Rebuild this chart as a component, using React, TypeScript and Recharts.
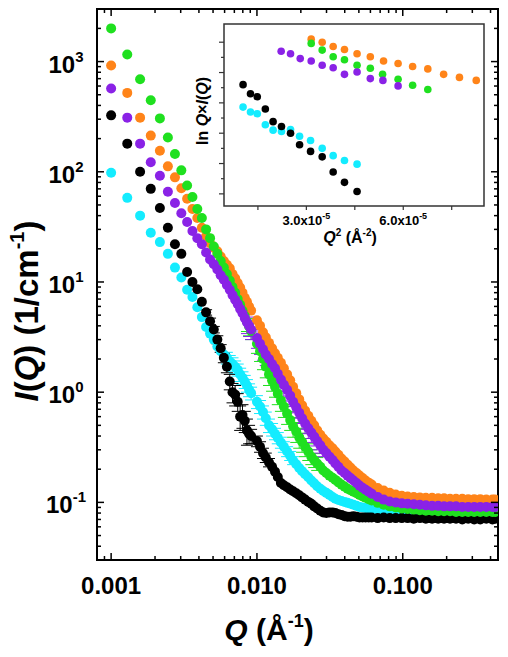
import React from "react";
import { ErrorBar, Label, ReferenceArea, Scatter, ScatterChart, XAxis, YAxis } from "recharts";

// main plot: Q (1/A) against I(Q) (1/cm), both log
const qValues = [
  0.001, 0.00129, 0.00158, 0.00187, 0.00216, 0.00245, 0.00274, 0.00303, 0.00332, 0.00361,
  0.0039, 0.00419, 0.00448, 0.00477, 0.00506, 0.00535, 0.00564, 0.00593, 0.00622, 0.00651,
  0.0068, 0.00709, 0.00738, 0.00767, 0.00796, 0.00825, 0.00854, 0.00883, 0.00912, 0.01,
  0.011, 0.0121, 0.0133, 0.0146, 0.0161, 0.0177, 0.0195, 0.0214, 0.0236, 0.0259,
  0.0285, 0.0314, 0.0345, 0.038, 0.0418, 0.0459, 0.0505, 0.0556, 0.0612, 0.0673,
  0.074, 0.0814, 0.0895, 0.0985, 0.108, 0.119, 0.131, 0.144, 0.159, 0.175,
  0.192, 0.211, 0.232, 0.256, 0.281, 0.309, 0.34, 0.374, 0.412, 0.43
];
// extra points where the curves fall steeply
const qMid = [
  0.0105, 0.0115, 0.0127, 0.0139, 0.0153, 0.0169, 0.0186, 0.0204, 0.0225, 0.0247,
  0.0272, 0.0299, 0.033, 0.0362, 0.0399, 0.0438, 0.0482, 0.053, 0.0584
];

const orangeI = [
  920, 520, 310, 213, 155, 112, 89, 71, 57, 46,
  38, 31, 26, 22.5, 20.5, 19, 17, 15.5, 14.3, 13.3,
  11.8, 10.8, 9.8, 8.9, 8.0, 7.2, 6.6, 6.0, 5.5, 4.5,
  3.5, 2.8, 2.25, 1.85, 1.45, 1.12, 0.86, 0.68, 0.55, 0.45,
  0.38, 0.33, 0.29, 0.25, 0.22, 0.195, 0.175, 0.158, 0.145, 0.135,
  0.128, 0.122, 0.118, 0.115, 0.113, 0.112, 0.111, 0.11, 0.11, 0.109,
  0.109, 0.108, 0.108, 0.108, 0.107, 0.107, 0.107, 0.106, 0.106, 0.106
];
const orangeMid = [
  4.0, 3.15, 2.5, 2.05, 1.65, 1.28, 0.98, 0.76, 0.61, 0.5,
  0.41, 0.355, 0.31, 0.27, 0.235, 0.207, 0.185, 0.166, 0.151
];

const greenI = [
  2000, 1160, 690, 445, 305, 205, 145, 103, 75, 59,
  46, 38, 30, 25, 21, 18, 15.5, 13.5, 11.8, 10.3,
  9.0, 8.0, 7.0, 6.2, 5.5, 4.9, 4.35, 3.95, 3.6, 2.75,
  2.0, 1.45, 1.12, 0.84, 0.64, 0.49, 0.39, 0.32, 0.26, 0.225,
  0.195, 0.175, 0.16, 0.145, 0.133, 0.125, 0.117, 0.11, 0.104, 0.099,
  0.095, 0.092, 0.09, 0.088, 0.087, 0.086, 0.085, 0.084, 0.084, 0.083,
  0.083, 0.083, 0.082, 0.082, 0.082, 0.082, 0.082, 0.082, 0.082, 0.082
];
const greenMid = [
  2.35, 1.7, 1.28, 0.97, 0.74, 0.56, 0.44, 0.355, 0.29, 0.242,
  0.21, 0.185, 0.167, 0.152, 0.139, 0.129, 0.121, 0.113, 0.107
];

const purpleI = [
  570, 310, 180, 122, 92, 66, 52, 42, 35, 29,
  25, 22, 18.5, 16, 14.5, 13, 11.5, 10.5, 9.4, 8.5,
  7.6, 6.9, 6.3, 5.7, 5.2, 4.7, 4.3, 4.0, 3.7, 3.1,
  2.45, 2.0, 1.65, 1.3, 1.05, 0.82, 0.65, 0.52, 0.43, 0.36,
  0.3, 0.26, 0.225, 0.195, 0.175, 0.158, 0.142, 0.13, 0.12, 0.112,
  0.106, 0.102, 0.1, 0.098, 0.097, 0.096, 0.095, 0.094, 0.093, 0.093,
  0.092, 0.092, 0.092, 0.091, 0.091, 0.091, 0.091, 0.091, 0.091, 0.091
];
const purpleMid = [
  2.75, 2.2, 1.8, 1.47, 1.17, 0.93, 0.73, 0.58, 0.47, 0.395,
  0.33, 0.28, 0.242, 0.21, 0.185, 0.166, 0.15, 0.136, 0.125
];

const cyanI = [
  98, 58, 40, 28, 23, 18, 13.5, 11, 8.5, 7.3,
  5.9, 4.8, 3.9, 3.4, 3.0, 2.6, 2.35, 2.2, 2.05, 1.9,
  1.8, 1.7, 1.6, 1.45, 1.35, 1.25, 1.15, 1.05, 0.98, 0.82,
  0.66, 0.5, 0.42, 0.35, 0.29, 0.24, 0.205, 0.18, 0.158, 0.14,
  0.127, 0.117, 0.108, 0.103, 0.099, 0.095, 0.091, 0.089, 0.087, 0.086,
  0.085, 0.084, 0.084, 0.084, 0.083, 0.083, 0.083, 0.083, 0.083, 0.083,
  0.083, 0.083, 0.083, 0.083, 0.083, 0.083, 0.083, 0.083, 0.083, 0.083
];
const cyanMid = [
  0.74, 0.58, 0.46, 0.385, 0.32, 0.265, 0.222, 0.192, 0.169, 0.149,
  0.133, 0.122, 0.112, 0.105, 0.101, 0.097, 0.093, 0.09, 0.088
];

const blackI = [
  325, 180, 100, 70, 47, 31, 22, 18, 12.3, 10,
  8.6, 6.6, 5.3, 4.4, 3.7, 3.0, 2.5, 2.05, 1.7, 1.25,
  1.0, 0.95, 0.82, 0.6, 0.62, 0.55, 0.45, 0.42, 0.4, 0.36,
  0.28, 0.23, 0.19, 0.15, 0.137, 0.126, 0.116, 0.106, 0.097, 0.088,
  0.081, 0.081, 0.08, 0.077, 0.074, 0.075, 0.073, 0.073, 0.073, 0.072,
  0.073, 0.072, 0.072, 0.072, 0.072, 0.071, 0.072, 0.071, 0.071, 0.071,
  0.071, 0.071, 0.071, 0.07, 0.071, 0.07, 0.07, 0.071, 0.07, 0.071
];
const blackMid = [
  0.32, 0.255, 0.21, 0.17, 0.143, 0.131, 0.121, 0.111, 0.101, 0.092,
  0.084, 0.08, 0.081, 0.078, 0.075, 0.074, 0.074, 0.073, 0.073
];

// error bars, same grids (0 = none visible)
const greenErr = [
  0, 0, 0, 0, 0, 0, 0, 0, 0, 0,
  0, 0, 0, 0, 0, 0, 0, 0, 0, 0,
  0, 0, 0, 0, 0, 0, 0.8, 0.7, 0.6, 0.5,
  0.4, 0.3, 0.22, 0.17, 0.13, 0.1, 0.08, 0.06, 0.04, 0.03,
  0, 0, 0, 0, 0, 0, 0, 0, 0, 0,
  0, 0, 0, 0, 0, 0, 0, 0, 0, 0,
  0, 0, 0, 0, 0, 0, 0, 0, 0, 0
];
const greenMidErr = [0.45, 0.35, 0.26, 0.2, 0.15, 0.11, 0.09, 0.07, 0.05, 0.035, 0, 0, 0, 0, 0, 0, 0, 0, 0];

const purpleErr = [
  0, 0, 0, 0, 0, 0, 0, 0, 0, 0,
  0, 0, 0, 0, 0, 0, 0, 0, 0, 0,
  0, 0, 0, 0, 0, 0, 0.9, 0.8, 0.7, 0.6,
  0.5, 0.4, 0.35, 0.28, 0.22, 0.17, 0.13, 0.1, 0.08, 0.06,
  0.04, 0, 0, 0, 0, 0, 0, 0, 0, 0,
  0, 0, 0, 0, 0, 0, 0, 0, 0, 0,
  0, 0, 0, 0, 0, 0, 0, 0, 0, 0
];
const purpleMidErr = [0.55, 0.45, 0.38, 0.31, 0.25, 0.19, 0.15, 0.12, 0.09, 0.07, 0.05, 0, 0, 0, 0, 0, 0, 0, 0];

const cyanErr = [
  0, 0, 0, 0, 0, 0, 0, 0, 0, 0,
  0, 0, 0, 0, 0, 0, 0, 0, 0.25, 0.25,
  0.25, 0.22, 0.2, 0.2, 0.18, 0.17, 0.15, 0.14, 0.13, 0.11,
  0.09, 0.07, 0.05, 0.04, 0.03, 0.02, 0, 0, 0, 0,
  0, 0, 0, 0, 0, 0, 0, 0, 0, 0,
  0, 0, 0, 0, 0, 0, 0, 0, 0, 0,
  0, 0, 0, 0, 0, 0, 0, 0, 0, 0
];
const cyanMidErr = [0.1, 0.08, 0.06, 0.045, 0.035, 0.025, 0, 0, 0, 0, 0, 0, 0, 0, 0, 0, 0, 0, 0];

const blackErr = [
  0, 0, 0, 0, 0, 0, 0, 0, 0, 0,
  0, 0, 0.3, 0.3, 0.25, 0.25, 0.2, 0.2, 0.2, 0.2,
  0.2, 0.2, 0.15, 0.15, 0.15, 0.12, 0.12, 0.08, 0.06, 0.04,
  0.03, 0.02, 0, 0, 0, 0, 0, 0, 0, 0,
  0, 0, 0, 0, 0, 0, 0, 0, 0, 0,
  0, 0, 0, 0, 0, 0, 0, 0, 0, 0,
  0, 0, 0, 0, 0, 0, 0, 0, 0, 0
];
const blackMidErr = [0.035, 0.025, 0, 0, 0, 0, 0, 0, 0, 0, 0, 0, 0, 0, 0, 0, 0, 0, 0];

const xTicks = [
  0.0009, 0.001, 0.002, 0.003, 0.004, 0.005, 0.006, 0.007, 0.008, 0.009,
  0.01, 0.02, 0.03, 0.04, 0.05, 0.06, 0.07, 0.08, 0.09, 0.1, 0.2, 0.3, 0.4
];
const yTicks = [
  0.04, 0.05, 0.06, 0.07, 0.08, 0.09, 0.1, 0.2, 0.3, 0.4, 0.5, 0.6, 0.7, 0.8, 0.9,
  1, 2, 3, 4, 5, 6, 7, 8, 9, 10, 20, 30, 40, 50, 60, 70, 80, 90,
  100, 200, 300, 400, 500, 600, 700, 800, 900, 1000, 2000
];
const xLabels: Record<string, string> = { "0.001": "0.001", "0.01": "0.010", "0.1": "0.100" };

// inset: Q^2 (in 1e-5 A^-2) against ln Q*I(Q)
const insetOrangeQ2 = [3.15, 3.49, 3.83, 4.18, 4.57, 4.98, 5.39, 5.84, 6.29, 6.76, 7.25, 7.74, 8.26];
const insetOrangeV = [-1.95, -2.0, -2.07, -2.12, -2.19, -2.24, -2.31, -2.35, -2.4, -2.44, -2.53, -2.58, -2.63];
const insetGreenQ2 = [3.15, 3.49, 3.83, 4.18, 4.57, 4.98, 5.36, 5.84, 6.29, 6.76];
const insetGreenV = [-2.02, -2.13, -2.24, -2.29, -2.38, -2.43, -2.53, -2.61, -2.71, -2.78];
const insetPurpleQ2 = [2.22, 2.51, 2.81, 3.15, 3.49, 3.83, 4.18, 4.57, 4.98, 5.37, 5.84];
const insetPurpleV = [-2.15, -2.19, -2.27, -2.31, -2.38, -2.42, -2.53, -2.49, -2.6, -2.63, -2.72];
const insetBlackQ2 = [1.04, 1.27, 1.48, 1.73, 1.97, 2.23, 2.51, 2.79, 3.13, 3.49, 3.83, 4.18, 4.57];
const insetBlackV = [-2.7, -2.85, -2.9, -3.1, -3.31, -3.39, -3.5, -3.69, -3.8, -3.89, -4.14, -4.31, -4.46];
const insetCyanQ2 = [1.04, 1.27, 1.48, 1.73, 1.97, 2.23, 2.51, 2.79, 3.13, 3.49, 3.83, 4.18, 4.57];
const insetCyanV = [-3.07, -3.15, -3.18, -3.36, -3.45, -3.47, -3.44, -3.55, -3.62, -3.75, -3.87, -3.95, -4.01];

const insetXTicks = [1.5, 3.0, 4.5, 6.0, 7.5];
const insetYTicks = [-4.5, -4.25, -4.0, -3.75, -3.5, -3.25, -3.0, -2.75, -2.5, -2.25, -2.0];

const ORANGE = "#ff8419";
const GREEN = "#1fe01f";
const PURPLE = "#8a22e6";
const CYAN = "#14ecff";
const BLACK = "#000000";

const PLOT_W = 401;
const PLOT_H = 551;
const FONT = "'Liberation Sans', Arial, Helvetica, sans-serif";

function rows(values: number[], mid: number[], errors?: number[], midErrors?: number[]) {
  const main = qValues.map((q, k) => ({ q, i: values[k], err: errors ? errors[k] : 0 }));
  const extra = qMid.map((q, k) => ({ q, i: mid[k], err: midErrors ? midErrors[k] : 0 }));
  return main.concat(extra);
}

function insetRows(q2: number[], v: number[]) {
  return q2.map((x, k) => ({ q2: x, v: v[k] }));
}

function isDecade(v: number) {
  const l = Math.log10(v);
  return Math.abs(l - Math.round(l)) < 1e-6;
}

function dot(color: string, r: number) {
  return (p: any) => <circle cx={p.cx} cy={p.cy} r={r} fill={color} />;
}

function MainXTick(props: any) {
  const { x, y, payload } = props;
  const major = isDecade(payload.value);
  const len = major ? 7 : 4;
  const key = String(Math.pow(10, Math.round(Math.log10(payload.value))));
  return (
    <g>
      <line x1={x} y1={y} x2={x} y2={y - len} stroke="#000" strokeWidth={1.5} />
      <line x1={x} y1={y - PLOT_H} x2={x} y2={y - PLOT_H + len} stroke="#000" strokeWidth={1.5} />
      {major && (
        <text x={x} y={y + 34} textAnchor="middle" fontSize={24} fontWeight="bold" fill="#000">
          {xLabels[key]}
        </text>
      )}
    </g>
  );
}

function MainYTick(props: any) {
  const { x, y, payload } = props;
  const major = isDecade(payload.value);
  const len = major ? 7 : 4;
  const exp = Math.round(Math.log10(payload.value));
  return (
    <g>
      <line x1={x} y1={y} x2={x + len} y2={y} stroke="#000" strokeWidth={1.5} />
      <line x1={x + PLOT_W} y1={y} x2={x + PLOT_W - len} y2={y} stroke="#000" strokeWidth={1.5} />
      {major && (
        <text x={x - 31} y={y + 11} textAnchor="middle" fontWeight="bold" fill="#000">
          <tspan fontSize={24}>10</tspan>
          <tspan fontSize={15} dy={-11}>{exp}</tspan>
        </text>
      )}
    </g>
  );
}

function InsetXTick(props: any) {
  const { x, y, payload } = props;
  const labelled = payload.value === 3 || payload.value === 6;
  return (
    <g>
      <line x1={x} y1={y} x2={x} y2={y + 4} stroke="#333" strokeWidth={1.2} />
      {labelled && (
        <text x={x} y={y + 19} textAnchor="middle" fontWeight="bold" fill="#000">
          <tspan fontSize={13}>{payload.value.toFixed(1)}x10</tspan>
          <tspan fontSize={9} dy={-6}>-5</tspan>
        </text>
      )}
    </g>
  );
}

function InsetYTick(props: any) {
  const { x, y, payload } = props;
  const major = Math.abs(payload.value * 2 - Math.round(payload.value * 2)) < 1e-6;
  const len = major ? 5 : 3;
  return <line x1={x} y1={y} x2={x - len} y2={y} stroke="#333" strokeWidth={1.2} />;
}

function MainXTitle() {
  return (
    <text x={269} y={640} textAnchor="middle" fontSize={30} fontWeight="bold" fill="#000">
      <tspan fontStyle="italic">Q</tspan>
      <tspan> (Å</tspan>
      <tspan fontSize={18} dy={-13}>-1</tspan>
      <tspan dy={13}>)</tspan>
    </text>
  );
}

function MainYTitle() {
  return (
    <text
      x={38}
      y={311}
      transform="rotate(-90, 38, 311)"
      textAnchor="middle"
      fontSize={33}
      fontWeight="bold"
      fill="#000"
    >
      <tspan fontStyle="italic">I</tspan>
      <tspan>(</tspan>
      <tspan fontStyle="italic">Q</tspan>
      <tspan>) (1/cm</tspan>
      <tspan fontSize={20} dy={-14}>-1</tspan>
      <tspan dy={14}>)</tspan>
    </text>
  );
}

function InsetXTitle() {
  return (
    <text x={170} y={233} textAnchor="middle" fontSize={16} fontWeight="bold" fill="#000">
      <tspan fontStyle="italic">Q</tspan>
      <tspan fontSize={10} dy={-7}>2</tspan>
      <tspan dy={7}> (Å</tspan>
      <tspan fontSize={10} dy={-7}>-2</tspan>
      <tspan dy={7}>)</tspan>
    </text>
  );
}

function InsetYTitle() {
  return (
    <text
      x={28}
      y={101}
      transform="rotate(-90, 28, 101)"
      textAnchor="middle"
      fontSize={16}
      fontWeight="bold"
      fill="#000"
    >
      <tspan>ln </tspan>
      <tspan fontStyle="italic">Q</tspan>
      <tspan>×</tspan>
      <tspan fontStyle="italic">I</tspan>
      <tspan>(</tspan>
      <tspan fontStyle="italic">Q</tspan>
      <tspan>)</tspan>
    </text>
  );
}

const mainSeries = [
  { name: "cyan", color: CYAN, data: rows(cyanI, cyanMid, cyanErr, cyanMidErr) },
  { name: "black", color: BLACK, data: rows(blackI, blackMid, blackErr, blackMidErr) },
  { name: "orange", color: ORANGE, data: rows(orangeI, orangeMid) },
  { name: "green", color: GREEN, data: rows(greenI, greenMid, greenErr, greenMidErr) },
  { name: "purple", color: PURPLE, data: rows(purpleI, purpleMid, purpleErr, purpleMidErr) }
];

const insetSeries = [
  { name: "orange", color: ORANGE, data: insetRows(insetOrangeQ2, insetOrangeV) },
  { name: "green", color: GREEN, data: insetRows(insetGreenQ2, insetGreenV) },
  { name: "purple", color: PURPLE, data: insetRows(insetPurpleQ2, insetPurpleV) },
  { name: "cyan", color: CYAN, data: insetRows(insetCyanQ2, insetCyanV) },
  { name: "black", color: BLACK, data: insetRows(insetBlackQ2, insetBlackV) }
];

export default function App() {
  return (
    <div style={{ position: "absolute", left: 0, top: 0, width: 508, height: 657, background: "#fff", fontFamily: FONT }}>
      <ScatterChart width={508} height={657} margin={{ top: 9, right: 10, bottom: 37, left: 37 }}>
        <XAxis
          type="number"
          dataKey="q"
          scale="log"
          domain={[0.0008, 0.45]}
          allowDataOverflow
          ticks={xTicks}
          interval={0}
          tick={MainXTick}
          tickSize={0}
          tickMargin={0}
          tickLine={false}
          axisLine={false}
          height={60}
        >
          <Label content={MainXTitle} />
        </XAxis>
        <YAxis
          type="number"
          dataKey="i"
          scale="log"
          domain={[0.03, 3000]}
          allowDataOverflow
          ticks={yTicks}
          interval={0}
          tick={MainYTick}
          tickSize={0}
          tickMargin={0}
          tickLine={false}
          axisLine={false}
          width={60}
        >
          <Label content={MainYTitle} />
        </YAxis>
        <ReferenceArea x1={0.0008} x2={0.45} y1={0.03} y2={3000} fill="none" stroke="#000" strokeWidth={2} />
        {mainSeries.map((s) => (
          <Scatter key={s.name} name={s.name} data={s.data} shape={dot(s.color, 5)} isAnimationActive={false}>
            {s.name !== "orange" && (
              <ErrorBar dataKey="err" direction="y" width={6} stroke={s.color} strokeWidth={1} />
            )}
          </Scatter>
        ))}
      </ScatterChart>

      <div style={{ position: "absolute", left: 180, top: 10 }}>
        <ScatterChart width={320} height={250} margin={{ top: 14, right: 16, bottom: 14, left: 14 }}>
          <XAxis
            type="number"
            dataKey="q2"
            domain={[0.45, 8.5]}
            allowDataOverflow
            ticks={insetXTicks}
            interval={0}
            tick={InsetXTick}
            tickSize={0}
            tickMargin={0}
            tickLine={false}
            axisLine={false}
            height={40}
          >
            <Label content={InsetXTitle} />
          </XAxis>
          <YAxis
            type="number"
            dataKey="v"
            domain={[-4.7, -1.7]}
            allowDataOverflow
            ticks={insetYTicks}
            interval={0}
            tick={InsetYTick}
            tickSize={0}
            tickMargin={0}
            tickLine={false}
            axisLine={false}
            width={30}
          >
            <Label content={InsetYTitle} />
          </YAxis>
          <ReferenceArea x1={0.45} x2={8.5} y1={-4.7} y2={-1.7} fill="#fff" stroke="#333" strokeWidth={1.5} />
          {insetSeries.map((s) => (
            <Scatter key={s.name} name={s.name} data={s.data} shape={dot(s.color, 3.8)} isAnimationActive={false} />
          ))}
        </ScatterChart>
      </div>
    </div>
  );
}
